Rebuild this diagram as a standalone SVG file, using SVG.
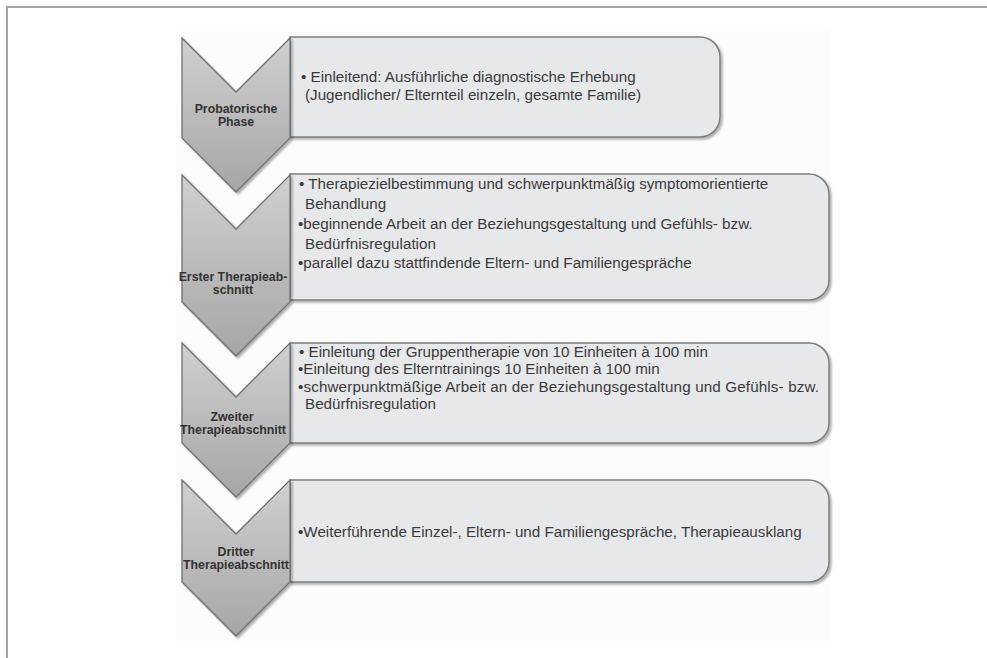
<svg xmlns="http://www.w3.org/2000/svg" width="987" height="658" viewBox="0 0 987 658">
<defs>
<linearGradient id="chev" x1="0" y1="0" x2="0" y2="1">
<stop offset="0" stop-color="#d0d0d0"/>
<stop offset="1" stop-color="#a6a6a6"/>
</linearGradient>
<filter id="sh" x="-5%" y="-10%" width="112%" height="130%">
<feDropShadow dx="2" dy="2" stdDeviation="1.2" flood-color="#000" flood-opacity="0.3"/>
</filter>
<style>
.frame{fill:none;stroke:#a3a3a3;stroke-width:2}
.box{fill:#e7e8ea;stroke:#7d7d7d;stroke-width:1.5;filter:url(#sh)}
.chev{fill:url(#chev);stroke:#6f6f6f;stroke-width:1.3;filter:url(#sh)}
.t{font-family:"Liberation Sans",Arial,sans-serif;font-size:15.2px;fill:#3a3a3a}
.l{font-family:"Liberation Sans",Arial,sans-serif;font-size:12.3px;font-weight:bold;fill:#333;text-anchor:middle}
</style>
</defs>
<rect x="0" y="0" width="987" height="658" fill="#fff"/>
<rect x="176" y="28" width="655" height="614" fill="#fcfcfc"/>
<path class="frame" d="M7,658 V7 H987"/>

<g id="step1">
<path class="box" d="M290,37 H700 A20,20 0 0 1 720,57 V117 A20,20 0 0 1 700,137 H290 Z"/>
<path class="chev" d="M182,38 L236,92 L290,38 V138 L236,192 L182,138 Z"/>
<text class="l" x="236" y="113">Probatorische</text>
<text class="l" x="236" y="126">Phase</text>
<text class="t" x="301" y="82">• Einleitend: Ausführliche diagnostische Erhebung</text>
<text class="t" x="305" y="100">(Jugendlicher/ Elternteil einzeln, gesamte Familie)</text>
</g>

<g id="step2">
<path class="box" d="M290,174 H809 A20,20 0 0 1 829,194 V280 A20,20 0 0 1 809,300 H290 Z"/>
<path class="chev" d="M182,175 L236,229 L290,175 V302 L236,356 L182,302 Z"/>
<text class="l" x="233" y="281">Erster Therapieab-</text>
<text class="l" x="233" y="294">schnitt</text>
<text class="t" x="299" y="189">• Therapiezielbestimmung und schwerpunktmäßig symptomorientierte</text>
<text class="t" x="305" y="209">Behandlung</text>
<text class="t" x="298" y="229">•beginnende Arbeit an der Beziehungsgestaltung und Gefühls- bzw.</text>
<text class="t" x="305" y="249">Bedürfnisregulation</text>
<text class="t" x="298" y="268">•parallel dazu stattfindende Eltern- und Familiengespräche</text>
</g>

<g id="step3">
<path class="box" d="M290,343 H809 A20,20 0 0 1 829,363 V423 A20,20 0 0 1 809,443 H290 Z"/>
<path class="chev" d="M182,343 L236,397 L290,343 V443 L236,497 L182,443 Z"/>
<text class="l" x="232" y="421">Zweiter</text>
<text class="l" x="233" y="434">Therapieabschnitt</text>
<text class="t" x="299" y="357">• Einleitung der Gruppentherapie von 10 Einheiten à 100 min</text>
<text class="t" x="298" y="374">•Einleitung des Elterntrainings 10 Einheiten à 100 min</text>
<text class="t" x="298" y="392" textLength="521" lengthAdjust="spacing">•schwerpunktmäßige Arbeit an der Beziehungsgestaltung und Gefühls- bzw.</text>
<text class="t" x="305" y="409">Bedürfnisregulation</text>
</g>

<g id="step4">
<path class="box" d="M290,480 H809 A20,20 0 0 1 829,500 V562 A20,20 0 0 1 809,582 H290 Z"/>
<path class="chev" d="M182,480 L236,534 L290,480 V582 L236,636 L182,582 Z"/>
<text class="l" x="236" y="556">Dritter</text>
<text class="l" x="236" y="569">Therapieabschnitt</text>
<text class="t" x="298" y="537">•Weiterführende Einzel-, Eltern- und Familiengespräche, Therapieausklang</text>
</g>

<g id="connectors"></g>
</svg>
